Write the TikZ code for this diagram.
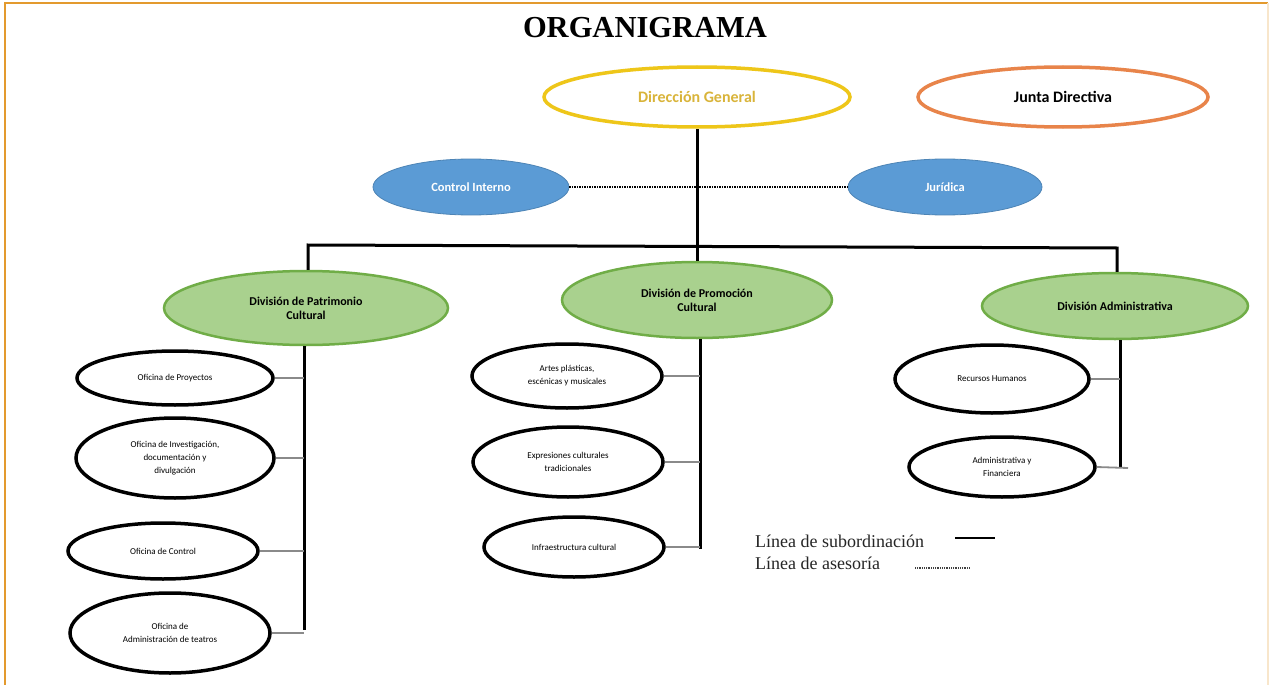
\documentclass[tikz,border=0pt]{standalone}
\usepackage{fontspec}
\setmainfont{Carlito}
\newfontfamily\serifb{Liberation Serif}
\usetikzlibrary{shapes.geometric}
\definecolor{frameor}{HTML}{E39A2E}
\definecolor{dgyel}{HTML}{EEC619}
\definecolor{dgtxt}{HTML}{D9B43A}
\definecolor{jdor}{HTML}{E8844A}
\definecolor{blueel}{HTML}{5B9BD5}
\definecolor{greenf}{HTML}{A9D18E}
\definecolor{greend}{HTML}{70AD47}
\definecolor{connG}{HTML}{8A8A8A}
\tikzset{
  top/.style={ellipse, draw, line width=3.5pt, fill=white, inner sep=0pt, font=\bfseries\fontsize{16}{18}\selectfont},
  staff/.style={ellipse, fill=blueel, draw=blueel!85!black, line width=0.8pt, inner sep=0pt, text=white, font=\bfseries\fontsize{12.5}{14}\selectfont},
  divn/.style={ellipse, fill=greenf, draw=greend, line width=2.5pt, inner sep=0pt, align=center, font=\bfseries\fontsize{12}{14}\selectfont},
  unit/.style={ellipse, draw=black, line width=3.5pt, fill=white, inner sep=0pt, align=center, font=\fontsize{9}{13}\selectfont},
  sub/.style={line width=3pt, black},
  conn/.style={line width=1.8pt, connG},
  advice/.style={line width=2.5pt, black, dash pattern=on 1.5pt off 1pt},
}
\begin{document}
\begin{tikzpicture}[x=1pt,y=-1pt]
\useasboundingbox (0,0) rectangle (1270,685);
\fill[white] (0,0) rectangle (1270,685);
% frame
\draw[frameor, line width=2pt] (5,685) -- (5,3) -- (1268,3);
\draw[frameor!25, line width=1.2pt] (1268,3) -- (1268,685);
% title
\node (title) at (645,28) {\serifb\bfseries\fontsize{30.5}{33}\selectfont ORGANIGRAMA};
% top level
\node[top, draw=dgyel, text=dgtxt, minimum width=306pt, minimum height=60pt] (dg) at (697,97) {Dirección General};
\node[top, draw=jdor, text=black, minimum width=290pt, minimum height=60pt] (jd) at (1063,97) {Junta Directiva};
% staff
\node[staff, minimum width=196pt, minimum height=56pt] (ci) at (471,187) {Control Interno};
\node[staff, minimum width=194pt, minimum height=56pt] (ju) at (945,187) {Jurídica};
% divisions
\node[divn, minimum width=284pt, minimum height=74pt] (dp) at (306,308) {División de Patrimonio\\Cultural};
\node[divn, minimum width=270pt, minimum height=76pt] (dpc) at (697,300) {División de Promoción\\Cultural};
\node[divn, minimum width=266pt, minimum height=66pt] (da) at (1115,306) {División Administrativa};
% coordinates
\coordinate (bus) at (697,246);
\coordinate (busL) at (308,245);
\coordinate (busR) at (1117,248);
% subordination lines
\draw[advice] (ci.east) -- (ju.west);
\draw[sub] (dg.south) -- (bus);
\draw[sub] (busL |- dp.north) -- (busL) -- (busR) -- (busR |- da.north);
\draw[sub] (bus) -- (dpc.north);
% left column units
\node[unit, minimum width=196pt, minimum height=54pt] (o1) at (175,378) {Oficina de Proyectos};
\node[unit, minimum width=198pt, minimum height=80pt] (o2) at (175,458) {Oficina de Investigación,\\documentación y\\divulgación};
\node[unit, minimum width=190pt, minimum height=56pt] (o3) at (163,551) {Oficina de Control};
\node[unit, minimum width=200pt, minimum height=80pt] (o4) at (170,633) {Oficina de\\Administración de teatros};
\coordinate (vL) at (304,630);
\draw[sub] (dp.south -| vL) -- (vL);
\draw[conn] (o1.east) -- (o1.east -| vL);
\draw[conn] (o2.east) -- (o2.east -| vL);
\draw[conn] (o3.east) -- (o3.east -| vL);
\draw[conn] (o4.east) -- (o4.east -| vL);
% middle column units
\node[unit, minimum width=190pt, minimum height=64pt] (p1) at (567,376) {Artes plásticas,\\escénicas y musicales};
\node[unit, minimum width=190pt, minimum height=70pt] (p2) at (568,462) {Expresiones culturales\\tradicionales};
\node[unit, minimum width=180pt, minimum height=60pt] (p3) at (574,547) {Infraestructura cultural};
\coordinate (vM) at (700,549);
\draw[sub] (dpc.south -| vM) -- (vM);
\draw[conn] (p1.east) -- (p1.east -| vM);
\draw[conn] (p2.east) -- (p2.east -| vM);
\draw[conn] (p3.east) -- (p3.east -| vM);
% right column units
\node[unit, minimum width=194pt, minimum height=68pt] (a1) at (992,379) {Recursos Humanos};
\node[unit, minimum width=186pt, minimum height=60pt] (a2) at (1002,467) {Administrativa y\\Financiera};
\coordinate (vR) at (1120,468);
\coordinate (tickR) at (1128,468);
\draw[sub] (da.south -| vR) -- (vR);
\draw[conn] (a1.east) -- (a1.east -| vR);
\draw[conn] (a2.east) -- (tickR);
% legend
\node[anchor=west, inner sep=0pt, text=black!85] (l1) at (755,541) {\serifb\fontsize{18}{20}\selectfont Línea de subordinación};
\node[anchor=west, inner sep=0pt, text=black!85] (l2) at (755,563) {\serifb\fontsize{18}{20}\selectfont Línea de asesoría};
\coordinate (s1) at (955,538);
\coordinate (s2) at (995,538);
\coordinate (d1) at (915,568);
\coordinate (d2) at (970,568);
\draw[line width=2.5pt] (s1) -- (s2);
\draw[line width=1.5pt, black!75, dash pattern=on 1pt off 0.8pt] (d1) -- (d2);
\end{tikzpicture}
\end{document}
